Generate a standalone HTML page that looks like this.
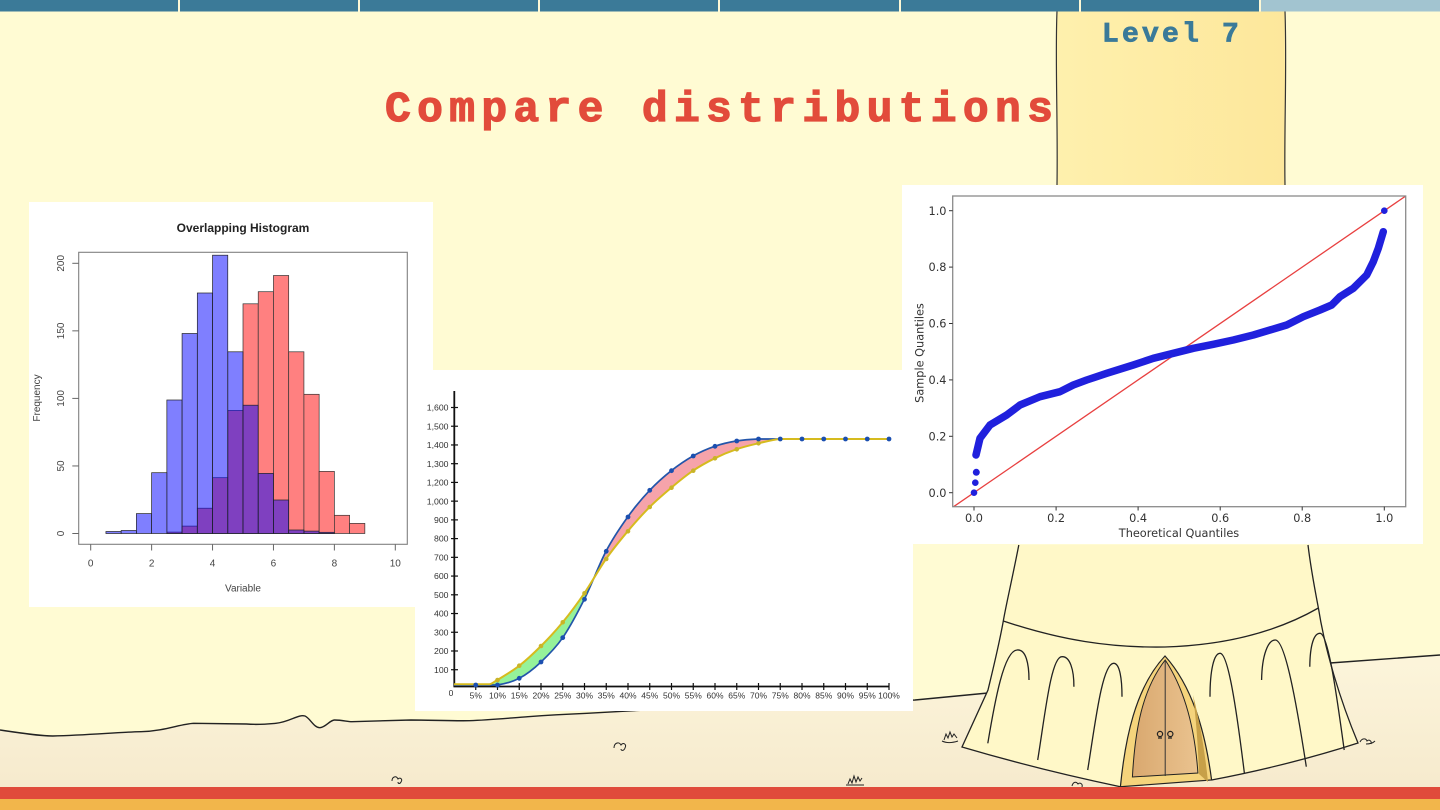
<!DOCTYPE html>
<html><head><meta charset="utf-8"><style>
html,body{margin:0;padding:0;background:#fffbd3;}
body{width:1440px;height:810px;overflow:hidden;}
svg{display:block;}
</style></head><body>
<svg width="1440" height="810" viewBox="0 0 1440 810" xmlns="http://www.w3.org/2000/svg">
<defs>
<linearGradient id="ground" x1="0" y1="0" x2="0" y2="1">
<stop offset="0" stop-color="#fcf5db"/><stop offset="1" stop-color="#f6eacd"/></linearGradient>
<linearGradient id="towerTop" x1="0" y1="0" x2="1" y2="0">
<stop offset="0" stop-color="#fef0ad"/><stop offset="1" stop-color="#fde79b"/></linearGradient>
<linearGradient id="door" x1="0" y1="0" x2="1" y2="0">
<stop offset="0" stop-color="#d9a86f"/><stop offset="1" stop-color="#eac38f"/></linearGradient>
<clipPath id="qbox"><rect x="952.7" y="196" width="453" height="310.7"/></clipPath>
</defs>

<!-- background -->
<rect x="0" y="0" width="1440" height="810" fill="#fffbd3"/>

<!-- ground -->
<path d="M0,730 C20,733 40,736 52.8,736 C90,735 120,732 141,731.7 C165,731 180,724 193.7,723.3 L246.5,724 C258,725 268,724 275.8,723.3 C290,722 298,714 305,716 C310,718 314,728 320,727.7 C326,727 330,720 334.5,720 C343,720 347,721.7 352,721.7 L410.8,720 C430,720 450,721 469.5,720.7 C490,720 510,718 528,716.7 C550,715 570,714 587,713.3 L645.5,710 L915,700 L983,694 L1330,663 C1370,660 1410,657 1440,655 L1440,790 L0,790 Z" fill="url(#ground)"/>
<path d="M0,730 C20,733 40,736 52.8,736 C90,735 120,732 141,731.7 C165,731 180,724 193.7,723.3 L246.5,724 C258,725 268,724 275.8,723.3 C290,722 298,714 305,716 C310,718 314,728 320,727.7 C326,727 330,720 334.5,720 C343,720 347,721.7 352,721.7 L410.8,720 C430,720 450,721 469.5,720.7 C490,720 510,718 528,716.7 C550,715 570,714 587,713.3 L645.5,710 L915,700 L988,693" fill="none" stroke="#222" stroke-width="1.4"/>
<path d="M1322,664 L1330,663 C1370,660 1410,657 1440,655" fill="none" stroke="#222" stroke-width="1.4"/>

<!-- ground squiggles -->
<g fill="none" stroke="#222" stroke-width="1">
<path d="M614,748 c0,-5 5,-7 7,-3 c2,-3 6,-1 4,3 c-1,3 -4,3 -4,1"/>
<path d="M392,781 c0,-4 4,-6 6,-2 c2,-2 5,0 3,3 c-1,2 -3,2 -3,0"/>
<path d="M848,784 l2,-5 l2,4 l2,-7 l2,6 l2,-5 l2,4 l2,-3 M846,785 h18"/>
<path d="M944,740 l2,-6 l2,4 l2,-6 l2,5 l2,-3 l3,4 M942,741 c4,2 10,2 16,0"/>
<path d="M1072,786 c1,-4 4,-5 6,-2 c2,-2 5,0 4,3"/>
<path d="M1360,742 c2,-4 6,-4 7,-1 c2,-2 5,0 4,3 M1366,744 c3,0 7,-1 9,-3"/>
</g>

<!-- tower top part -->
<path d="M1057,11 C1055,60 1058,120 1057,185 L1285,185 C1287,130 1284,70 1285,11 Z" fill="url(#towerTop)"/>
<path d="M1057,11 C1055,60 1058,120 1057,185" fill="none" stroke="#333" stroke-width="1.2"/>
<path d="M1285,11 C1287,70 1284,130 1285,185" fill="none" stroke="#333" stroke-width="1.2"/>

<!-- tower lower part -->
<path d="M1018.8,545 C1012,580 1006,605 1003.3,621 C999,645 994,665 988,690 L962,747 Q1040,770 1120.4,786.7 L1211.6,780 Q1290,765 1358,743 C1340,700 1325,650 1318.4,608 C1315,590 1311,570 1308,545 Z" fill="#fff8c8"/>
<g fill="none" stroke="#222" stroke-width="1.3">
<path d="M1018.8,545 C1012,580 1006,605 1003.3,621 C999,645 994,665 988,690 L962,747 Q1040,770 1120.4,786.7"/>
<path d="M1211.6,780 Q1290,765 1358,743 C1340,700 1325,650 1318.4,608 C1315,590 1311,570 1308,545"/>
<path d="M1003.3,621 C1060,640 1110,648 1165,647 C1230,645 1280,630 1318.4,608"/>
<path d="M987.8,743.3 C995,700 1004,651 1017,650 C1026,649 1029,664 1029,680"/>
<path d="M1037.7,760 C1045,715 1051,657 1061.8,656.7 C1070,656 1074,670 1073.9,686.7"/>
<path d="M1087.7,770 C1095,725 1102,664 1113.5,663.3 C1120,663 1122,680 1122,696.7"/>
<path d="M1210,696.7 C1210,670 1214,653 1220.2,653.3 C1228,654 1236,705 1244.4,773.3"/>
<path d="M1261.6,680 C1262,655 1268,640 1275.3,640 C1285,640 1296,700 1306.3,766.7"/>
<path d="M1309.8,666.7 C1310,645 1314,633 1320.1,633.3 C1328,634 1336,690 1344.2,750"/>
</g>
<!-- door -->
<path d="M1120.4,786.7 C1125,740 1135,688 1165,656 C1192,686 1205,730 1211.6,780 Z" fill="#f5d47c" stroke="#222" stroke-width="1.2"/>
<path d="M1132.4,777 C1135,730 1142,690 1165.2,660 C1185,690 1195,730 1197.9,773 Z" fill="url(#door)" stroke="#222" stroke-width="1"/>
<path d="M1193,695 C1200,722 1205,752 1208,782 L1199,774 C1198,745 1196,718 1193,695 Z" fill="#c7a048"/>
<line x1="1165.2" y1="660" x2="1165.2" y2="776" stroke="#333" stroke-width="1"/>
<circle cx="1160" cy="734" r="2.6" fill="none" stroke="#222" stroke-width="1.2"/>
<circle cx="1170.3" cy="734" r="2.6" fill="none" stroke="#222" stroke-width="1.2"/>
<path d="M1158,738 h4 M1168,738 h4" stroke="#222" stroke-width="1.2"/>

<!-- bottom stripes -->
<rect x="0" y="787" width="1440" height="12" fill="#e04b3b"/>
<rect x="0" y="799" width="1440" height="11" fill="#f2b64b"/>

<!-- top bar -->
<rect x="0" y="0" width="1440" height="11.5" fill="#3b7a98"/>
<rect x="1261" y="0" width="179" height="11.5" fill="#a2c4d0"/>
<g fill="#fdf8d6">
<rect x="178" y="0" width="2" height="11.5"/><rect x="358" y="0" width="2" height="11.5"/>
<rect x="538" y="0" width="2" height="11.5"/><rect x="718" y="0" width="2" height="11.5"/>
<rect x="899" y="0" width="2" height="11.5"/><rect x="1079" y="0" width="2" height="11.5"/>
<rect x="1259" y="0" width="2" height="11.5"/>
</g>

<!-- titles -->
<text x="385" y="121" font-family="Liberation Mono, monospace" font-weight="bold" font-size="43" letter-spacing="6.3" fill="#e24b3b" stroke="#e24b3b" stroke-width="1.2">Compare distributions</text>
<text x="1102" y="41.5" font-family="Liberation Mono, monospace" font-weight="bold" font-size="28" letter-spacing="3.2" fill="#3a7a99" stroke="#3a7a99" stroke-width="0.8">Level 7</text>

<!-- ============ HISTOGRAM ============ -->
<rect x="29" y="202" width="404" height="405" fill="#ffffff"/>
<text x="243" y="232" text-anchor="middle" font-family="Liberation Sans, Arial, sans-serif" font-weight="bold" font-size="12" fill="#222">Overlapping Histogram</text>
<g fill="#ff8080" stroke="#333" stroke-width="0.7">
<rect x="166.85" y="532.1" width="15.23" height="1.4"/>
<rect x="182.08" y="526.1" width="15.23" height="7.4"/>
<rect x="197.31" y="508.2" width="15.23" height="25.3"/>
<rect x="212.54" y="477.7" width="15.23" height="55.8"/>
<rect x="227.77" y="410.5" width="15.23" height="123"/>
<rect x="243.0" y="303.8" width="15.23" height="229.7"/>
<rect x="258.23" y="291.7" width="15.23" height="241.8"/>
<rect x="273.46" y="275.5" width="15.23" height="258"/>
<rect x="288.69" y="351.8" width="15.23" height="181.7"/>
<rect x="303.92" y="394.3" width="15.23" height="139.2"/>
<rect x="319.15" y="471.4" width="15.23" height="62.1"/>
<rect x="334.38" y="515.3" width="15.23" height="18.2"/>
<rect x="349.61" y="523.4" width="15.23" height="10.1"/>
</g>
<g fill="rgba(0,0,255,0.5)" stroke="#222" stroke-width="0.7">
<rect x="105.93" y="531.5" width="15.23" height="2"/>
<rect x="121.16" y="530.5" width="15.23" height="3"/>
<rect x="136.39" y="513.6" width="15.23" height="19.9"/>
<rect x="151.62" y="472.7" width="15.23" height="60.8"/>
<rect x="166.85" y="400" width="15.23" height="133.5"/>
<rect x="182.08" y="333.5" width="15.23" height="200"/>
<rect x="197.31" y="293" width="15.23" height="240.5"/>
<rect x="212.54" y="255.2" width="15.23" height="278.3"/>
<rect x="227.77" y="351.8" width="15.23" height="181.7"/>
<rect x="243.0" y="405.2" width="15.23" height="128.3"/>
<rect x="258.23" y="473.4" width="15.23" height="60.1"/>
<rect x="273.46" y="500" width="15.23" height="33.5"/>
<rect x="288.69" y="530" width="15.23" height="3.5"/>
<rect x="303.92" y="531.1" width="15.23" height="2.4"/>
<rect x="319.15" y="532.3" width="15.23" height="1.2"/>
</g>
<rect x="78.7" y="252.3" width="328.6" height="292" fill="none" stroke="#808080" stroke-width="1.1"/>
<g stroke="#666" stroke-width="1">
<line x1="72.3" y1="533.5" x2="78.7" y2="533.5"/><line x1="72.3" y1="465.95" x2="78.7" y2="465.95"/>
<line x1="72.3" y1="398.4" x2="78.7" y2="398.4"/><line x1="72.3" y1="330.85" x2="78.7" y2="330.85"/>
<line x1="72.3" y1="263.3" x2="78.7" y2="263.3"/>
<line x1="90.7" y1="544.3" x2="90.7" y2="550.5"/><line x1="151.62" y1="544.3" x2="151.62" y2="550.5"/>
<line x1="212.54" y1="544.3" x2="212.54" y2="550.5"/><line x1="273.46" y1="544.3" x2="273.46" y2="550.5"/>
<line x1="334.38" y1="544.3" x2="334.38" y2="550.5"/><line x1="395.3" y1="544.3" x2="395.3" y2="550.5"/>
</g>
<g font-family="Liberation Sans, Arial, sans-serif" font-size="10" fill="#444" text-anchor="middle">
<text transform="translate(63.8,533.5) rotate(-90)">0</text>
<text transform="translate(63.8,465.95) rotate(-90)">50</text>
<text transform="translate(63.8,398.4) rotate(-90)">100</text>
<text transform="translate(63.8,330.85) rotate(-90)">150</text>
<text transform="translate(63.8,263.3) rotate(-90)">200</text>
<text x="90.7" y="566.7">0</text><text x="151.62" y="566.7">2</text>
<text x="212.54" y="566.7">4</text><text x="273.46" y="566.7">6</text>
<text x="334.38" y="566.7">8</text><text x="395.3" y="566.7">10</text>
<text x="243" y="591.5">Variable</text>
<text transform="translate(39.8,398) rotate(-90)">Frequency</text>
</g>

<!-- ============ CDF CHART ============ -->
<rect x="415" y="370" width="498" height="341" fill="#ffffff"/>
<!-- green lobe -->
<path fill="#95f29a" d="M488,684.3 C491.5,684.3 492.1,683.1 497.3,680 C502.5,676.9 512.0,671.4 519.3,665.7 C526.6,660.0 533.8,653.2 541,646 C548.2,638.8 555.5,631.1 562.7,622.3 C569.9,613.5 577.1,603.9 584.3,593.3 L593.8,578.2 L584.3,599.3 C577.1,613.7 569.9,627.2 562.7,637.7 C555.5,648.1 548.2,655.2 541,662 C533.8,668.8 526.6,674.5 519.3,678.3 C512.0,682.1 504.6,683.9 497.3,685 L488,685 Z"/>
<!-- pink lobe -->
<path fill="#f6a3aa" d="M593.8,578.2 L606,551.3 C613.2,537.6 620.4,527.2 627.7,517 C635.0,506.8 642.4,498.0 649.7,490.3 C657.0,482.6 664.1,476.4 671.3,470.7 C678.5,465.0 685.8,460.1 693,456 C700.2,451.9 707.5,448.8 714.7,446.3 C721.9,443.8 729.0,442.2 736.3,441 C743.6,439.8 751.0,439.3 758.3,439 L780,439 C772.8,439.7 765.6,441.6 758.3,443.3 C751.0,445.0 743.6,446.8 736.3,449.3 C729.0,451.8 721.9,454.7 714.7,458.3 C707.5,461.9 700.2,465.8 693,470.7 C685.8,475.6 678.5,481.6 671.3,487.7 C664.1,493.8 657.0,499.7 649.7,507 C642.4,514.3 635.0,522.6 627.7,531.3 C620.4,540.0 613.2,548.7 606,559 Z"/>
<!-- axes -->
<g stroke="#111" stroke-width="1.8">
<line x1="454.3" y1="391" x2="454.3" y2="687"/>
<line x1="453.5" y1="686.5" x2="889.5" y2="686.5"/>
</g>
<g stroke="#111" stroke-width="1.2">
<line x1="451" y1="407.5" x2="458" y2="407.5"/><line x1="451" y1="426.23" x2="458" y2="426.23"/>
<line x1="451" y1="444.96" x2="458" y2="444.96"/><line x1="451" y1="463.69" x2="458" y2="463.69"/>
<line x1="451" y1="482.42" x2="458" y2="482.42"/><line x1="451" y1="501.15" x2="458" y2="501.15"/>
<line x1="451" y1="519.88" x2="458" y2="519.88"/><line x1="451" y1="538.61" x2="458" y2="538.61"/>
<line x1="451" y1="557.34" x2="458" y2="557.34"/><line x1="451" y1="576.07" x2="458" y2="576.07"/>
<line x1="451" y1="594.8" x2="458" y2="594.8"/><line x1="451" y1="613.53" x2="458" y2="613.53"/>
<line x1="451" y1="632.26" x2="458" y2="632.26"/><line x1="451" y1="650.99" x2="458" y2="650.99"/>
<line x1="451" y1="669.72" x2="458" y2="669.72"/>
<line x1="475.75" y1="683" x2="475.75" y2="690"/><line x1="497.5" y1="683" x2="497.5" y2="690"/>
<line x1="519.25" y1="683" x2="519.25" y2="690"/><line x1="541" y1="683" x2="541" y2="690"/>
<line x1="562.75" y1="683" x2="562.75" y2="690"/><line x1="584.5" y1="683" x2="584.5" y2="690"/>
<line x1="606.25" y1="683" x2="606.25" y2="690"/><line x1="628" y1="683" x2="628" y2="690"/>
<line x1="649.75" y1="683" x2="649.75" y2="690"/><line x1="671.5" y1="683" x2="671.5" y2="690"/>
<line x1="693.25" y1="683" x2="693.25" y2="690"/><line x1="715" y1="683" x2="715" y2="690"/>
<line x1="736.75" y1="683" x2="736.75" y2="690"/><line x1="758.5" y1="683" x2="758.5" y2="690"/>
<line x1="780.25" y1="683" x2="780.25" y2="690"/><line x1="802" y1="683" x2="802" y2="690"/>
<line x1="823.75" y1="683" x2="823.75" y2="690"/><line x1="845.5" y1="683" x2="845.5" y2="690"/>
<line x1="867.25" y1="683" x2="867.25" y2="690"/><line x1="889" y1="683" x2="889" y2="690"/>
</g>
<g font-family="Liberation Sans, Arial, sans-serif" font-size="8.7" fill="#333" text-anchor="end">
<text x="448.5" y="410.6">1,600</text><text x="448.5" y="429.3">1,500</text>
<text x="448.5" y="448.1">1,400</text><text x="448.5" y="466.8">1,300</text>
<text x="448.5" y="485.5">1,200</text><text x="448.5" y="504.3">1,000</text>
<text x="448.5" y="523">900</text><text x="448.5" y="541.7">800</text>
<text x="448.5" y="560.4">700</text><text x="448.5" y="579.2">600</text>
<text x="448.5" y="597.9">500</text><text x="448.5" y="616.6">400</text>
<text x="448.5" y="635.4">300</text><text x="448.5" y="654.1">200</text>
<text x="448.5" y="672.8">100</text>
</g>
<g font-family="Liberation Sans, Arial, sans-serif" font-size="8.5" fill="#333" text-anchor="middle">
<text x="451" y="696">0</text>
<text x="475.75" y="698.5">5%</text><text x="497.5" y="698.5">10%</text>
<text x="519.25" y="698.5">15%</text><text x="541" y="698.5">20%</text>
<text x="562.75" y="698.5">25%</text><text x="584.5" y="698.5">30%</text>
<text x="606.25" y="698.5">35%</text><text x="628" y="698.5">40%</text>
<text x="649.75" y="698.5">45%</text><text x="671.5" y="698.5">50%</text>
<text x="693.25" y="698.5">55%</text><text x="715" y="698.5">60%</text>
<text x="736.75" y="698.5">65%</text><text x="758.5" y="698.5">70%</text>
<text x="780.25" y="698.5">75%</text><text x="802" y="698.5">80%</text>
<text x="823.75" y="698.5">85%</text><text x="845.5" y="698.5">90%</text>
<text x="867.25" y="698.5">95%</text><text x="889" y="698.5">100%</text>
</g>
<!-- curves -->
<path fill="none" stroke="#2255aa" stroke-width="1.7" d="M454,685 L497.3,685 C504.6,683.9 512.0,682.1 519.3,678.3 C526.6,674.5 533.8,668.8 541,662 C548.2,655.2 555.5,648.1 562.7,637.7 C569.9,627.2 577.1,613.7 584.3,599.3 C591.5,585.0 598.8,565.0 606,551.3 C613.2,537.6 620.4,527.2 627.7,517 C635.0,506.8 642.4,498.0 649.7,490.3 C657.0,482.6 664.1,476.4 671.3,470.7 C678.5,465.0 685.8,460.1 693,456 C700.2,451.9 707.5,448.8 714.7,446.3 C721.9,443.8 729.0,442.2 736.3,441 C743.6,439.8 751.0,439.3 758.3,439 L889,439"/>
<path fill="none" stroke="#d6bb1e" stroke-width="2" d="M454,684.3 L488,684.3 C491.5,684.3 492.1,683.1 497.3,680 C502.5,676.9 512.0,671.4 519.3,665.7 C526.6,660.0 533.8,653.2 541,646 C548.2,638.8 555.5,631.1 562.7,622.3 C569.9,613.5 577.1,603.9 584.3,593.3 C591.5,582.8 598.8,569.3 606,559 C613.2,548.7 620.4,540.0 627.7,531.3 C635.0,522.6 642.4,514.3 649.7,507 C657.0,499.7 664.1,493.8 671.3,487.7 C678.5,481.6 685.8,475.6 693,470.7 C700.2,465.8 707.5,461.9 714.7,458.3 C721.9,454.7 729.0,451.8 736.3,449.3 C743.6,446.8 751.0,445.0 758.3,443.3 C765.6,441.6 772.8,439.7 780,439 L889,439"/>
<g fill="#c9b428">
<circle cx="497.5" cy="680" r="2.3"/><circle cx="519.25" cy="665.7" r="2.3"/>
<circle cx="541" cy="646" r="2.3"/><circle cx="562.75" cy="622.3" r="2.3"/>
<circle cx="584.5" cy="593.3" r="2.3"/><circle cx="606.25" cy="559" r="2.3"/>
<circle cx="628" cy="531.3" r="2.3"/><circle cx="649.75" cy="507" r="2.3"/>
<circle cx="671.5" cy="487.7" r="2.3"/><circle cx="693.25" cy="470.7" r="2.3"/>
<circle cx="715" cy="458.3" r="2.3"/><circle cx="736.75" cy="449.3" r="2.3"/>
<circle cx="758.5" cy="443.3" r="2.3"/>
</g>
<g fill="#1b4fb0">
<circle cx="475.75" cy="685" r="2.4"/><circle cx="497.5" cy="685" r="2.4"/>
<circle cx="519.25" cy="678.3" r="2.4"/><circle cx="541" cy="662" r="2.4"/>
<circle cx="562.75" cy="637.7" r="2.4"/><circle cx="584.5" cy="599.3" r="2.4"/>
<circle cx="606.25" cy="551.3" r="2.4"/><circle cx="628" cy="517" r="2.4"/>
<circle cx="649.75" cy="490.3" r="2.4"/><circle cx="671.5" cy="470.7" r="2.4"/>
<circle cx="693.25" cy="456" r="2.4"/><circle cx="715" cy="446.3" r="2.4"/>
<circle cx="736.75" cy="441" r="2.4"/><circle cx="758.5" cy="439" r="2.4"/>
<circle cx="780.25" cy="439" r="2.4"/><circle cx="802" cy="439" r="2.4"/>
<circle cx="823.75" cy="439" r="2.4"/><circle cx="845.5" cy="439" r="2.4"/>
<circle cx="867.25" cy="439" r="2.4"/><circle cx="889" cy="439" r="2.4"/>
</g>

<!-- ============ QQ PLOT ============ -->
<rect x="902" y="185" width="521" height="359" fill="#ffffff"/>
<g clip-path="url(#qbox)">
<line x1="952.7" y1="507.3" x2="1405.7" y2="196" stroke="#e84040" stroke-width="1.3"/>
<path fill="none" stroke="#2020dd" stroke-width="7.5" stroke-linecap="round" stroke-linejoin="round" d="M976,455 L980,438.3 L990,425 L1006.7,415 L1020,405 L1040,396.7 L1060,391.7 L1073.3,385 L1086.7,380 L1106.7,373.3 L1133.3,365 L1153.3,358.3 L1173.3,353.3 L1193.3,348.3 L1213.3,344.3 L1233.3,340 L1253.3,335 L1270,330 L1286.7,325 L1303.3,316.7 L1320,310 L1331.7,305 L1340,296.7 L1353.3,288.3 L1366.7,275 L1373.3,261.7 L1378.3,248.3 L1383.3,231.7"/>
<g fill="#2020dd">
<circle cx="974" cy="492.7" r="3.3"/><circle cx="975.3" cy="482.7" r="3.3"/>
<circle cx="976.3" cy="472.3" r="3.5"/><circle cx="1384.3" cy="210.7" r="3.3"/>
</g>
</g>
<rect x="952.7" y="196" width="453" height="310.7" fill="none" stroke="#8a8a8a" stroke-width="1.3"/>
<g stroke="#333" stroke-width="1">
<line x1="974" y1="506.7" x2="974" y2="510.5"/><line x1="1056.1" y1="506.7" x2="1056.1" y2="510.5"/>
<line x1="1138.1" y1="506.7" x2="1138.1" y2="510.5"/><line x1="1220.2" y1="506.7" x2="1220.2" y2="510.5"/>
<line x1="1302.2" y1="506.7" x2="1302.2" y2="510.5"/><line x1="1384.3" y1="506.7" x2="1384.3" y2="510.5"/>
<line x1="949" y1="492.7" x2="952.7" y2="492.7"/><line x1="949" y1="436.3" x2="952.7" y2="436.3"/>
<line x1="949" y1="379.9" x2="952.7" y2="379.9"/><line x1="949" y1="323.5" x2="952.7" y2="323.5"/>
<line x1="949" y1="267.1" x2="952.7" y2="267.1"/><line x1="949" y1="210.7" x2="952.7" y2="210.7"/>
</g>
<g font-family="DejaVu Sans, Liberation Sans, sans-serif" font-size="11.3" fill="#333">
<g text-anchor="end">
<text x="946.5" y="496.8">0.0</text><text x="946.5" y="440.4">0.2</text>
<text x="946.5" y="384">0.4</text><text x="946.5" y="327.6">0.6</text>
<text x="946.5" y="271.2">0.8</text><text x="946.5" y="214.8">1.0</text>
</g>
<g text-anchor="middle">
<text x="974" y="522">0.0</text><text x="1056.1" y="522">0.2</text>
<text x="1138.1" y="522">0.4</text><text x="1220.2" y="522">0.6</text>
<text x="1302.2" y="522">0.8</text><text x="1384.3" y="522">1.0</text>
<text x="1179" y="536.8">Theoretical Quantiles</text>
<text transform="translate(923.3,353) rotate(-90)">Sample Quantiles</text>
</g>
</g>
</svg>
</body></html>
